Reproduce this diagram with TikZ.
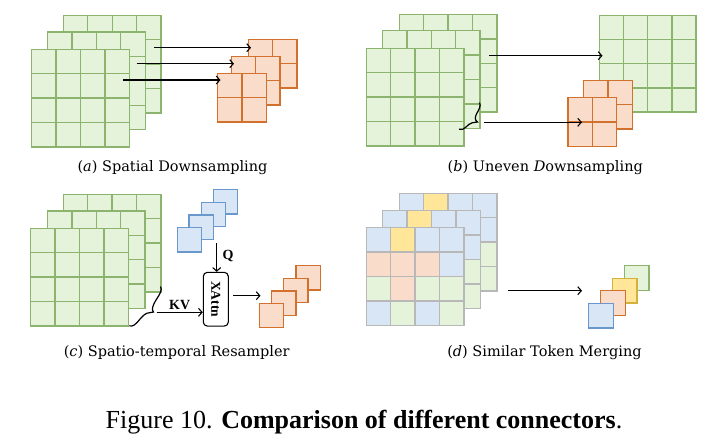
\documentclass[tikz,border=0pt]{standalone}
\usepackage{fontspec}
\setmainfont{DejaVu Serif}
\newfontfamily\capfont{Liberation Serif}
\usetikzlibrary{arrows.meta}
\definecolor{grnF}{HTML}{E6F3DB}
\definecolor{grnD}{HTML}{8DB46E}
\definecolor{orgF}{HTML}{FADCCA}
\definecolor{orgD}{HTML}{D2702E}
\definecolor{bluF}{HTML}{D8E6F6}
\definecolor{bluD}{HTML}{6A97CC}
\definecolor{yelF}{HTML}{FFE699}
\definecolor{yelD}{HTML}{D6B13A}
\definecolor{gryD}{HTML}{B8B8B8}
\tikzset{
  cellbase/.style={inner sep=0pt, outer sep=0pt, line width=1.3pt, anchor=north west},
  grnbox/.style={cellbase, draw=grnD, fill=grnF},
  orgbox/.style={cellbase, draw=orgD, fill=orgF},
  blubox/.style={cellbase, draw=bluD, fill=bluF},
  yelbox/.style={cellbase, draw=yelD, fill=yelF},
  grybox/.style={cellbase, draw=gryD, fill=none},
  arr/.style={-{Straight Barb[length=3.5pt,width=8pt]}, line width=1.1pt},
  subcap/.style={font=\fontsize{14.5}{16}\selectfont, anchor=base},
  lbl/.style={font=\capfont\bfseries\fontsize{14}{16}\selectfont},
  xlbl/.style={font=\capfont\bfseries\fontsize{13.5}{15}\selectfont},
  attnbox/.style={draw, line width=1.1pt, rounded corners=4pt, minimum width=25pt, minimum height=53.7pt, inner sep=0pt},
  brace/.style={line width=1.2pt}
}
% name, x, y, n, cell, style
\newcommand{\tgrid}[6]{%
  \node[#6, minimum size=#4*#5 pt] (#1) at (#2,#3) {};
  \pgfmathtruncatemacro{\gnm}{#4-1}
  \foreach \k in {1,...,\gnm} {
    \draw[#6, fill=none] ([xshift=\k*#5 pt]#1.north west) -- ([xshift=\k*#5 pt]#1.south west);
    \draw[#6, fill=none] ([yshift=-\k*#5 pt]#1.north west) -- ([yshift=-\k*#5 pt]#1.north east);
  }
}
\colorlet{cB}{bluF}\colorlet{cY}{yelF}\colorlet{cO}{orgF}\colorlet{cG}{grnF}
% name, x, y : coloured token grid
\newcommand{\cgrid}[3]{%
  \foreach \row [count=\r from 0] in {{B,Y,B,B},{O,O,O,B},{G,O,G,G},{B,G,B,G}} {
    \foreach \c [count=\q from 0] in \row {
      \fill[fill=c\c] ({#2+\q*24.4},{#3+\r*24.4}) rectangle ++(24.4,24.4);
    }
  }
  \tgrid{#1}{#2}{#3}{4}{24.4}{grybox}
}
\begin{document}
\begin{tikzpicture}[x=1pt,y=-1pt]
\useasboundingbox[fill=white] (0,0) rectangle (720,445);

% ---------------- (a) ----------------
\tgrid{ga1}{63.4}{15.3}{4}{24.4}{grnbox}
\tgrid{ga2}{47.6}{32}{4}{24.4}{grnbox}
\tgrid{ga3}{31.7}{49.3}{4}{24.4}{grnbox}
\tgrid{oa1}{248.3}{39.3}{2}{24.3}{orgbox}
\tgrid{oa2}{231.4}{56.3}{2}{24.3}{orgbox}
\tgrid{oa3}{217.6}{73.3}{2}{24.3}{orgbox}
\coordinate (a1s) at (154,47.7);  \coordinate (a1e) at (251,47.7);
\coordinate (a2s) at (136.7,63.7);\coordinate (a2e) at (234,63.7);
\coordinate (a3s) at (123.3,80);  \coordinate (a3e) at (220.5,80);
\draw[arr] (a1s) -- (a1e);
\draw[arr] (a2s) -- (a2e);
\draw[arr] (a3s) -- (a3e);
\node[subcap] (capa) at (172.5,171) {(\textit{a}) Spatial Downsampling};

% ---------------- (b) ----------------
\tgrid{gb1}{399.3}{14.5}{4}{24.4}{grnbox}
\tgrid{gb2}{382.5}{30.7}{4}{24.4}{grnbox}
\tgrid{gb3}{366.3}{48.3}{4}{24.4}{grnbox}
\tgrid{gbr}{599.3}{15.3}{4}{24.2}{grnbox}
\tgrid{ob1}{583.6}{80.3}{2}{24.3}{orgbox}
\tgrid{ob2}{568}{97.7}{2}{24.3}{orgbox}
\draw[brace] (459,129.3) .. controls (465,131) and (467,124) .. (472,122.8)
  .. controls (474.5,122.3) .. (477.5,122)
  .. controls (474.5,120) and (475,117) .. (476.5,114)
  .. controls (478.5,110) and (481.5,106) .. (479.5,102.5);
\coordinate (b1s) at (489,55.7);   \coordinate (b1e) at (602.5,55.7);
\coordinate (b2s) at (484.3,122.3); \coordinate (b2e) at (582,122.3);
\draw[arr] (b1s) -- (b1e);
\draw[arr] (b2s) -- (b2e);
\node[subcap] (capb) at (545.3,171) {(\textit{b}) Uneven \textit{D}ownsampling};

% ---------------- (c) ----------------
\tgrid{gc1}{63.3}{194.3}{4}{24.4}{grnbox}
\tgrid{gc2}{47.5}{210.9}{4}{24.4}{grnbox}
\tgrid{gc3}{30.7}{228.3}{4}{24.4}{grnbox}
\draw[brace] (129.3,325.8) .. controls (136,328) and (140,316) .. (147,313.2)
  .. controls (150,312.2) .. (153.5,312)
  .. controls (151,310) and (153,305) .. (156,300)
  .. controls (160,294) and (162.5,290) .. (160.5,286.5);
\node[blubox, minimum size=24.4pt] (qc4) at (213.3,189.7) {};
\node[blubox, minimum size=24.4pt] (qc3) at (201.3,202.3) {};
\node[blubox, minimum size=24.4pt] (qc2) at (189,215) {};
\node[blubox, minimum size=24.4pt] (qc1) at (177.3,227.7) {};
\node[attnbox] (xattn) at (215.8,299.2) {};
\node[xlbl, rotate=-90] (xattnt) at (xattn.center) {XAttn};
\coordinate (qs) at (216.7,243.3);
\draw[arr] (qs) -- (xattn.north -| qs) node[pos=0.45, right=2pt, lbl] (qlab) {Q};
\coordinate (kvs) at (156.7,312.3);
\draw[arr] (kvs) -- (kvs -| xattn.west) node[midway, above=-1pt, lbl] (kvlab) {KV};
\coordinate (outs) at (233.3,295.7); \coordinate (oute) at (260.5,295.7);
\draw[arr] (outs) -- (oute);
\node[orgbox, minimum size=24.4pt] (oc4) at (296,265.7) {};
\node[orgbox, minimum size=24.4pt] (oc3) at (283.7,278.3) {};
\node[orgbox, minimum size=24.4pt] (oc2) at (271.6,291) {};
\node[orgbox, minimum size=24.4pt] (oc1) at (259.4,303.3) {};
\node[subcap] (capc) at (176.7,356) {(\textit{c}) Spatio-temporal Resampler};

% ---------------- (d) ----------------
\cgrid{gd1}{399.3}{193.3}
\cgrid{gd2}{382.7}{210.7}
\cgrid{gd3}{366.3}{227.7}
\coordinate (ds) at (507.7,290.7); \coordinate (de) at (582,290.7);
\draw[arr] (ds) -- (de);
\node[grnbox, minimum size=24.6pt] (td4) at (624.4,265.7) {};
\node[yelbox, minimum size=24.6pt] (td3) at (612.4,278.3) {};
\node[orgbox, minimum size=24.6pt] (td2) at (600.6,290.7) {};
\node[blubox, minimum size=24.6pt] (td1) at (588.7,303.3) {};
\node[subcap] (capd) at (544.5,356) {(\textit{d}) Similar Token Merging};

% ---------------- caption ----------------
\node[anchor=base, font=\capfont\fontsize{26}{30}\selectfont] (figcap) at (364,428.3)
  {Figure 10. \textbf{Comparison of different connectors}.};
\end{tikzpicture}
\end{document}
